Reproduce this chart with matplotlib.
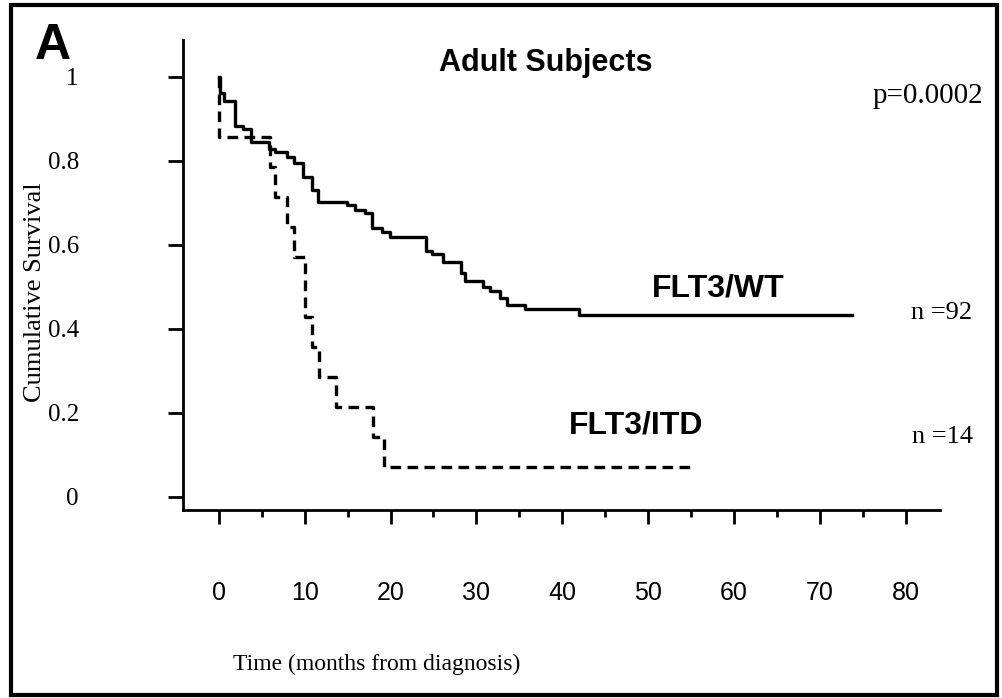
import matplotlib
matplotlib.use("Agg")
import matplotlib.pyplot as plt
from matplotlib.patches import Rectangle

# Kaplan-Meier curves (months, cumulative survival)
wt_times = [0, 0.1, 0.6, 1.9, 2.8, 3.8, 5.8, 6.6, 7.9, 8.8, 9.8, 10.8, 11.6,
            14.9, 15.9, 17.0, 17.8, 19.0, 19.9, 24.1, 24.8, 26.1, 28.2, 28.7,
            30.8, 31.6, 32.8, 33.6, 35.7, 41.9, 73.8]
wt_surv = [1.0, 0.962, 0.943, 0.883, 0.875, 0.846, 0.828, 0.822, 0.810, 0.796,
           0.763, 0.731, 0.703, 0.695, 0.683, 0.675, 0.641, 0.632, 0.618, 0.586,
           0.579, 0.560, 0.534, 0.514, 0.499, 0.490, 0.473, 0.457, 0.448, 0.433,
           0.433]

itd_times = [0, 0.05, 6.0, 6.6, 7.9, 8.8, 10.0, 10.9, 11.7, 13.6, 18.0, 19.2, 55.2]
itd_surv = [1.0, 0.857, 0.786, 0.714, 0.643, 0.571, 0.429, 0.357, 0.286, 0.214,
            0.143, 0.071, 0.071]

x_ticks = [0, 10, 20, 30, 40, 50, 60, 70, 80]
x_minor = [5, 15, 25, 35, 45, 55, 65, 75]
y_ticks = [0, 0.2, 0.4, 0.6, 0.8, 1]
y_labels = ["0", "0.2", "0.4", "0.6", "0.8", "1"]

serif = "Liberation Serif"
sans = "Liberation Sans"

fig = plt.figure(figsize=(10.02, 6.98), dpi=100)
ax = fig.add_axes([183 / 1002, 1 - 510 / 698, (940 - 183) / 1002, (510 - 40) / 698])

ax.step(wt_times, wt_surv, where="post", color="black", lw=2.4)
ax.step(itd_times, itd_surv, where="post", color="black", lw=2.4,
        linestyle=(0, (3.2, 1.9)))

ax.set_xlim(-4.17, 84.0)
ax.set_ylim(-0.031, 1.088)

for s in ["top", "right"]:
    ax.spines[s].set_visible(False)
for s in ["left", "bottom"]:
    ax.spines[s].set_linewidth(2.0)

ax.set_xticks(x_ticks)
ax.set_xticks(x_minor, minor=True)
ax.set_xticklabels([str(t) for t in x_ticks], fontfamily=sans, fontsize=18)
ax.set_yticks(y_ticks)
ax.set_yticklabels(y_labels, fontfamily=serif, fontsize=18)
ax.tick_params(axis="x", which="major", length=10, width=2, pad=41, direction="out")
ax.tick_params(axis="x", which="minor", length=5, width=2, direction="out")
ax.tick_params(axis="y", which="major", length=11, width=2, pad=64, direction="out")

fig.text(35 / 1002, 1 - 292 / 698, "Cumulative Survival", rotation=90,
         fontfamily=serif, fontsize=19, ha="center", va="center")
fig.text(377 / 1002, 1 - 664 / 698, "Time (months from diagnosis)",
         fontfamily=serif, fontsize=17, ha="center", va="center")

fig.text(53 / 1002, 1 - 46 / 698, "A", fontfamily=sans, fontweight="bold",
         fontsize=36, ha="center", va="center")
fig.text(546 / 1002, 1 - 63 / 698, "Adult Subjects", fontfamily=sans,
         fontweight="bold", fontsize=22, ha="center", va="center")
fig.text(873 / 1002, 1 - 96 / 698, "p=0.0002", fontfamily=serif, fontsize=21,
         ha="left", va="center")

fig.text(718 / 1002, 1 - 288 / 698, "FLT3/WT", fontfamily=sans,
         fontweight="bold", fontsize=23, ha="center", va="center")
fig.text(636 / 1002, 1 - 425 / 698, "FLT3/ITD", fontfamily=sans,
         fontweight="bold", fontsize=23, ha="center", va="center")
fig.text(942 / 1002, 1 - 313 / 698, "n =92", fontfamily=serif, fontsize=19,
         ha="center", va="center")
fig.text(942 / 1002, 1 - 437 / 698, "n =14", fontfamily=serif, fontsize=19,
         ha="center", va="center")

# black frame around the whole panel
fig.patches.append(Rectangle((11 / 1002, 3 / 698), 986 / 1002, 690 / 698,
                             transform=fig.transFigure, fill=False,
                             edgecolor="black", lw=3))

fig.savefig("out.png", dpi=100)
